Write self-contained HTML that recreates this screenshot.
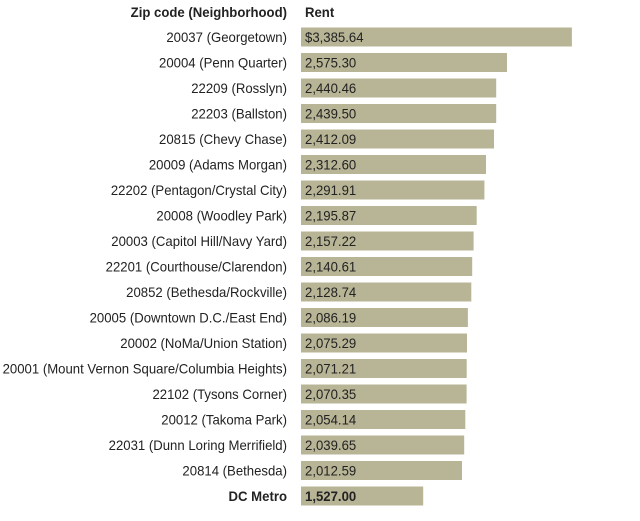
<!DOCTYPE html>
<html><head><style>
body{margin:0;background:#fff;width:640px;height:516px;overflow:hidden}
svg text{font-family:"Liberation Sans",sans-serif;font-size:14px;fill:#222}
</style></head><body>
<svg width="640" height="516" xmlns="http://www.w3.org/2000/svg">
<text transform="translate(287,17) scale(0.94,1)" text-anchor="end" font-weight="bold">Zip code (Neighborhood)</text>
<text transform="translate(305,17) scale(0.94,1)" font-weight="bold">Rent</text>
<g id="rows"></g>
</svg>
<script>
var d=[["20037 (Georgetown)",3385.64,"$3,385.64"],["20004 (Penn Quarter)",2575.30],["22209 (Rosslyn)",2440.46],["22203 (Ballston)",2439.50],["20815 (Chevy Chase)",2412.09],["20009 (Adams Morgan)",2312.60],["22202 (Pentagon/Crystal City)",2291.91],["20008 (Woodley Park)",2195.87],["20003 (Capitol Hill/Navy Yard)",2157.22],["22201 (Courthouse/Clarendon)",2140.61],["20852 (Bethesda/Rockville)",2128.74],["20005 (Downtown D.C./East End)",2086.19],["20002 (NoMa/Union Station)",2075.29],["20001 (Mount Vernon Square/Columbia Heights)",2071.21],["22102 (Tysons Corner)",2070.35],["20012 (Takoma Park)",2054.14],["22031 (Dunn Loring Merrifield)",2039.65],["20814 (Bethesda)",2012.59],["DC Metro",1527.00]];
var g=document.getElementById("rows"),h="";
d.forEach(function(r,i){var c=37+i*25.5,b=i==18?' font-weight="bold"':'';
var lab=r[2]||r[1].toLocaleString("en-US",{minimumFractionDigits:2,maximumFractionDigits:2});
h+='<rect x="301" y="'+(c-9.5)+'" width="'+(r[1]*0.08).toFixed(1)+'" height="19" fill="#b8b596"/>';
h+='<text transform="translate(287,'+(c+5)+') scale(0.94,1)" text-anchor="end"'+b+'>'+r[0]+'</text>';
h+='<text transform="translate(305,'+(c+5)+') scale(0.94,1)"'+b+'>'+lab+'</text>';});
g.innerHTML=h;
</script>
</body></html>
